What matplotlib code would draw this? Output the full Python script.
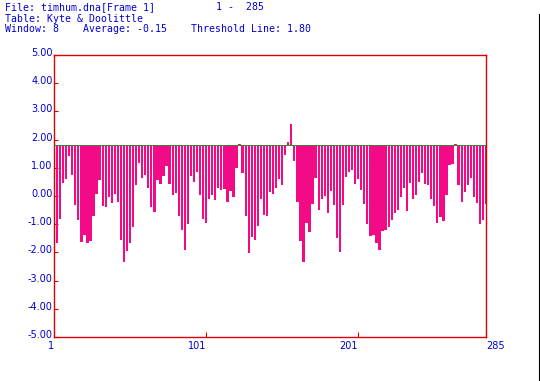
import matplotlib
matplotlib.use('Agg')
import matplotlib.pyplot as plt
import numpy as np
from matplotlib.lines import Line2D
from matplotlib.transforms import ScaledTranslation

plt.rcParams['axes.unicode_minus'] = False

# Kyte & Doolittle hydropathy, window 8, read at every second residue (1, 3, ..., 285)
residue = np.arange(1, 286, 2)
hydropathy = [
    -1.80, -1.65, -0.80, 0.45, 0.60, 1.43, 0.75, -0.32, -0.85, -1.62,
    -1.40, -1.65, -1.60, -0.70, 0.08, 0.55, -0.35, -0.40, -0.02, -0.26,
    0.07, -0.23, -1.55, -2.33, -1.95, -1.68, -1.10, 0.40, 1.18, 0.65,
    0.75, 0.29, -0.38, -0.55, 0.55, 0.42, 0.70, 1.05, 0.42, 0.04,
    0.10, -0.70, -1.20, -1.90, -1.00, 0.70, 0.51, 0.85, 0.05, -0.80,
    -0.95, -0.10, 0.05, -0.15, 0.30, 0.20, 0.25, -0.20, 0.18, -0.05,
    1.00, 1.85, 0.80, -0.70, -2.03, -1.45, -1.55, -1.05, -0.10, -0.67,
    -0.70, 0.15, 0.08, 0.30, 0.62, 0.40, 1.45, 1.90, 2.54, 1.25,
    -0.20, -1.60, -2.33, -0.95, -1.27, -0.30, 0.65, -0.50, -0.10, 0.00,
    -0.62, 0.18, -0.32, -1.50, -1.98, -0.32, 0.66, 0.85, 0.92, 0.42,
    0.62, 0.23, -0.30, -1.00, -1.42, -1.38, -1.68, -1.90, -1.25, -1.21,
    -1.10, -0.86, -0.62, -0.50, -0.02, 0.28, -0.53, 0.45, -0.10, 0.04,
    0.50, 0.80, 0.42, 0.39, -0.10, -0.35, -0.95, -0.75, -0.90, 0.05,
    1.10, 1.12, 1.83, 0.40, -0.20, 0.15, 0.39, 0.65, -0.05, -0.25,
    -1.00, -0.85, -0.30,
]
threshold = 1.80
y_ticks = [5, 4, 3, 2, 1, 0, -1, -2, -3, -4, -5]
x_ticks = [1, 101, 201, 285]

pink = '#f20a86'
blue = '#0000d4'
red = '#dd0000'

fig = plt.figure(figsize=(5.4, 3.81), dpi=100)
ax = fig.add_axes([54 / 540, 44 / 381, 432 / 540, 282 / 381])

heights = np.array(hydropathy) - threshold
ax.bar(residue, heights, bottom=threshold, width=1.5, color=pink,
       linewidth=0, zorder=2)
ax.axhline(threshold, color='#3f7f3f', lw=0.7, zorder=3)

ax.set_xlim(1, 285)
ax.set_ylim(-5, 5)
for s in ax.spines.values():
    s.set_color(red)
    s.set_linewidth(1.0)

ax.set_yticks(y_ticks)
ax.set_yticklabels(['%.2f' % v for v in y_ticks])
ax.set_xticks(x_ticks)
ax.set_xticklabels([str(v) for v in x_ticks])
ax.tick_params(axis='both', direction='in', color=red, width=0.8,
               labelcolor=blue, labelsize=7)
ax.tick_params(axis='y', length=3.2, pad=1)
ax.tick_params(axis='x', length=3.6, pad=3)
for lab in ax.get_yticklabels():
    lab.set_transform(lab.get_transform() + ScaledTranslation(0, 3 / 100, fig.dpi_scale_trans))
xl = ax.get_xticklabels()
for lab, ha in zip(xl, ['right', 'right', 'right', 'left']):
    lab.set_horizontalalignment(ha)

mono = dict(family='DejaVu Sans Mono', fontsize=7.1, color=blue, va='baseline')
fig.text(5 / 540, 1 - 10.5 / 381, 'File: timhum.dna[Frame 1]', **mono)
fig.text(216 / 540, 1 - 10.5 / 381, '1 -  285', **mono)
fig.text(5 / 540, 1 - 21.5 / 381, 'Table: Kyte & Doolittle', **mono)
fig.text(5 / 540, 1 - 32.5 / 381, 'Window: 8', **mono)
fig.text(83 / 540, 1 - 32.5 / 381, 'Average: -0.15', **mono)
fig.text(191 / 540, 1 - 32.5 / 381, 'Threshold Line: 1.80', **mono)

# window edge at the right of the screenshot
fig.add_artist(Line2D([538.5 / 540, 538.5 / 540], [0, 1 - 14 / 381],
                      transform=fig.transFigure, color='black', lw=0.8))

fig.savefig('out.png', dpi=100)
